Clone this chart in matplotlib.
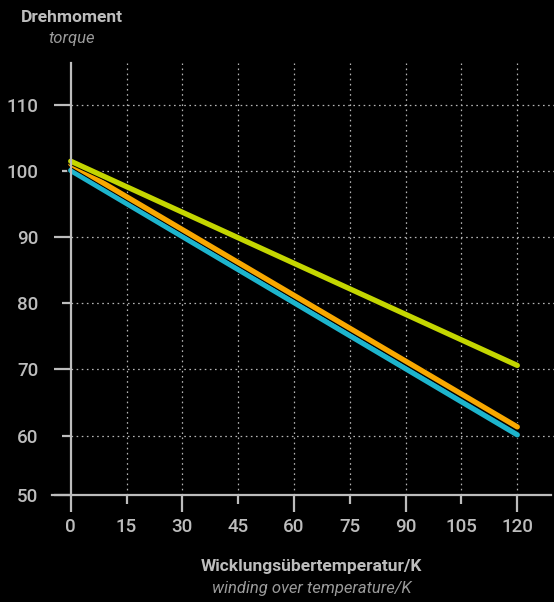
import matplotlib
matplotlib.use("Agg")
import matplotlib.pyplot as plt
import matplotlib.patheffects as pe

# --- data -------------------------------------------------------------------
temp_k = [0, 120]                       # Wicklungsübertemperatur / K
torque_green = [101.5, 70.6]
torque_orange = [101.1, 61.3]
torque_cyan = [100.1, 60.1]

x_ticks = [0, 15, 30, 45, 60, 75, 90, 105, 120]
y_ticks = [51, 60, 70, 80, 90, 100, 110]     # bottom axis sits a bit above 50
y_tick_labels = ['50', '60', '70', '80', '90', '100', '110']

# --- style ------------------------------------------------------------------
plt.rcParams['font.family'] = ['Roboto', 'DejaVu Sans']
FG = '#bdbdbd'
SUB = '#9a9a9a'
GRID = '#b5b5b5'
C_GREEN, C_ORANGE, C_CYAN = '#c4d600', '#f8a800', '#1db4cc'

W, H = 554, 602
fig = plt.figure(figsize=(W / 100, H / 100), dpi=100, facecolor='black')

x0_px, y_top_px, y_bot_px = 70.7, 63, 495
px_per_x = (517.3 - 70.7) / 120
xlo, xhi = -5.0, (W - x0_px) / px_per_x
ylo, yhi = 51.0, 116.35
left = (x0_px + xlo * px_per_x) / W
ax = fig.add_axes([left, 1 - y_bot_px / H, 1 - left, (y_bot_px - y_top_px) / H])
ax.set_facecolor('black')
ax.set_xlim(xlo, xhi)
ax.set_ylim(ylo, yhi)

# grid (dotted), drawn by hand so it starts at the y axis
dots = (0, (1.3, 2.8))
ax.hlines(y_ticks[1:], 0, xhi, colors=GRID, lw=0.9, linestyles=dots, zorder=1)
ax.vlines(x_ticks[1:], ylo, yhi, colors=GRID, lw=0.9, linestyles=dots, zorder=1)

# curves
stroke = [pe.Stroke(linewidth=5.2, foreground='black'), pe.Normal()]
for ys, c in [(torque_cyan, C_CYAN), (torque_orange, C_ORANGE), (torque_green, C_GREEN)]:
    ax.plot(temp_k, ys, color=c, lw=3.8, solid_capstyle='round',
            path_effects=stroke, zorder=3, clip_on=False)

# spines
for s in ('top', 'right'):
    ax.spines[s].set_visible(False)
ax.spines['left'].set_position(('data', 0))
ax.spines['left'].set_bounds(ylo, yhi)
ax.spines['bottom'].set_bounds(-4.9, 129.0)
for s in ('left', 'bottom'):
    ax.spines[s].set_color(FG)
    ax.spines[s].set_linewidth(1.6)
    ax.spines[s].set_zorder(4)

# ticks: long / short alternating, labels at the same distance
ax.set_xticks(x_ticks)
ax.set_yticks(y_ticks)
ax.set_yticklabels(y_tick_labels)
ax.tick_params(axis='x', length=12.2, width=1.6, color=FG, pad=4.0,
               labelsize=13.5, labelcolor=FG)
ax.tick_params(axis='y', length=12.2, width=1.6, color=FG, pad=11.0,
               labelsize=13.5, labelcolor=FG)
for i, t in enumerate(ax.xaxis.get_major_ticks()):
    if i % 2 == 1:
        t.tick1line.set_markersize(6.5)
for i, t in enumerate(ax.yaxis.get_major_ticks()):
    if i % 2 == 1:
        t.tick1line.set_markersize(6.5)
for lab in ax.get_xticklabels() + ax.get_yticklabels():
    lab.set_fontweight('medium')

# titles
fig.text(72 / W, 1 - 17 / H, 'Drehmoment', ha='center', va='center',
         color=FG, fontsize=12.5, fontweight='bold')
fig.text(72 / W, 1 - 38 / H, 'torque', ha='center', va='center',
         color=SUB, fontsize=12, fontstyle='italic')
fig.text(311 / W, 1 - 566.5 / H, 'Wicklungsübertemperatur/K', ha='center',
         va='center', color=FG, fontsize=12.5, fontweight='bold')
fig.text(312 / W, 1 - 588 / H, 'winding over temperature/K', ha='center',
         va='center', color=SUB, fontsize=12, fontstyle='italic')

fig.savefig('out.png', dpi=100, facecolor='black')
